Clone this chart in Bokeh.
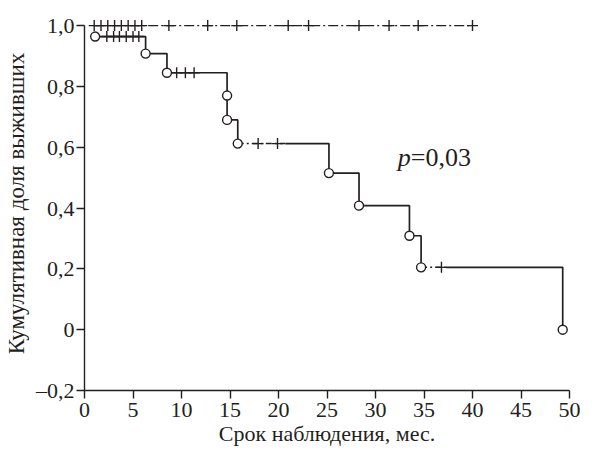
import math
from bokeh.plotting import figure
from bokeh.models import FixedTicker, CustomJSTickFormatter
from bokeh.core.properties import value
from bokeh.embed import file_html
from bokeh.resources import INLINE

# ---------------- data ----------------
# group 1 (no events): all censored, survival stays at 1.0
top_start = 1.0
top_end = 40.0
top_level = 1.0
top_censored = [1.0, 1.7, 2.4, 3.1, 3.8, 4.5, 5.2, 5.9, 8.7, 12.7, 15.7,
                21.0, 23.1, 28.3, 31.4, 34.4, 40.0]

# group 2: Kaplan-Meier steps
low_start_t = 1.1
low_start_s = 0.964
event_t = [6.3, 8.5, 14.7, 14.7, 15.8, 25.2, 28.3, 33.5, 34.7, 49.3]
event_s = [0.908, 0.845, 0.770, 0.690, 0.612, 0.515, 0.408, 0.309, 0.205, 0.0]
low_censored_t = [2.3, 3.0, 3.6, 4.3, 5.0, 5.6, 9.5, 10.4, 11.3, 17.9, 19.9, 36.8]
low_censored_s = [0.964] * 6 + [0.845] * 3 + [0.612] * 2 + [0.205]
low_dashed_intervals = [(15.8, 20.7), (34.7, 37.3)]

x_ticks = [0, 5, 10, 15, 20, 25, 30, 35, 40, 45, 50]
y_ticks = [-0.2, 0.0, 0.2, 0.4, 0.6, 0.8, 1.0]

x_title = "Срок наблюдения, мес."
y_title = "Кумулятивная доля выживших"
p_label_pos = (32.3, 0.566)
p_label_italic = "p"
p_label_rest = "=0,03"

# ---------------- build paths ----------------
INK = "#231f20"
FONT = "Liberation Serif"

xs, ys = [low_start_t], [low_start_s]
cur = low_start_s
for t, s in zip(event_t, event_s):
    xs += [t, t]
    ys += [cur, s]
    cur = s

solid_x, solid_y = [], []
dash_xs, dash_ys = [], []


def add_solid(xa, ya, xb, yb):
    if solid_x and solid_x[-1] == xa and solid_y[-1] == ya:
        solid_x.append(xb)
        solid_y.append(yb)
    else:
        if solid_x:
            solid_x.append(math.nan)
            solid_y.append(math.nan)
        solid_x.extend([xa, xb])
        solid_y.extend([ya, yb])


for i in range(len(xs) - 1):
    x0, y0, x1, y1 = xs[i], ys[i], xs[i + 1], ys[i + 1]
    if y0 == y1 and x1 > x0:
        pos = x0
        for a, b in low_dashed_intervals:
            if a < x1 and b > x0:
                a, b = max(a, x0), min(b, x1)
                if a > pos:
                    add_solid(pos, y0, a, y0)
                dash_xs.append([a, b])
                dash_ys.append([y0, y0])
                pos = b
        if x1 > pos:
            add_solid(pos, y0, x1, y0)
    else:
        add_solid(x0, y0, x1, y1)

circle_t = [low_start_t] + event_t
circle_s = [low_start_s] + event_s

# ---------------- figure ----------------
p = figure(width=606, height=453, output_backend="svg", toolbar_location=None,
           x_range=(0, 50), y_range=(-0.2, 1.03),
           min_border_left=83, min_border_right=37,
           min_border_top=16, min_border_bottom=63)
p.outline_line_color = None
p.xgrid.visible = False
p.ygrid.visible = False
p.background_fill_color = "white"
p.border_fill_color = "white"

# top curve
p.line([top_start, top_end], [top_level, top_level], line_color=INK,
       line_width=1.4, line_dash="10 3 2 3")
p.scatter(top_censored, [top_level] * len(top_censored), marker="cross",
          size=11, line_color=INK, line_width=1.4)

# lower curve
p.line(solid_x, solid_y, line_color=INK, line_width=1.7)
p.multi_line(dash_xs, dash_ys, line_color=INK, line_width=1.5, line_dash="6 3 2 3")
p.scatter(low_censored_t, low_censored_s, marker="cross", size=11,
          line_color=INK, line_width=1.4)
p.scatter(circle_t, circle_s, marker="circle", size=9, fill_color="white",
          line_color=INK, line_width=1.4)

# p-value
p.text([p_label_pos[0]], [p_label_pos[1]], text=[p_label_italic],
       text_font=value(FONT), text_font_style="italic", text_font_size="26px",
       text_color=INK, text_baseline="middle", text_align="left")
p.text([p_label_pos[0]], [p_label_pos[1]], text=[p_label_rest], x_offset=13,
       text_font=value(FONT), text_font_size="26px",
       text_color=INK, text_baseline="middle", text_align="left")

# axes
fmt = CustomJSTickFormatter(code="""
if (Math.abs(tick) < 1e-9) { return '0'; }
var s = Math.abs(tick).toFixed(1).replace('.', ',');
return tick < 0 ? '\u2013' + s : s;
""")

for ax in (p.xaxis[0], p.yaxis[0]):
    ax.axis_line_color = INK
    ax.axis_line_width = 1.4
    ax.major_tick_line_color = INK
    ax.major_tick_line_width = 1.4
    ax.major_tick_in = 0
    ax.major_tick_out = 8
    ax.minor_tick_line_color = None
    ax.major_label_text_font = FONT
    ax.major_label_text_font_style = "normal"
    ax.major_label_text_color = INK
    ax.axis_label_text_font = FONT
    ax.axis_label_text_font_style = "normal"
    ax.axis_label_text_color = INK

p.xaxis.major_label_text_font_size = "22px"
p.yaxis.major_label_text_font_size = "22px"
p.xaxis.axis_label_text_font_size = "22px"
p.yaxis.axis_label_text_font_size = "23px"
p.xaxis.ticker = FixedTicker(ticks=x_ticks)
p.yaxis.ticker = FixedTicker(ticks=y_ticks)
p.yaxis.formatter = fmt
p.yaxis.bounds = (-0.2, 1.0)
p.xaxis.bounds = (0, 50)
p.xaxis.axis_label = x_title
p.yaxis.axis_label = y_title
p.xaxis.major_label_standoff = 4
p.yaxis.major_label_standoff = 2
p.xaxis.axis_label_standoff = 1
p.yaxis.axis_label_standoff = 4

open("out.html", "w").write(file_html(p, INLINE))
